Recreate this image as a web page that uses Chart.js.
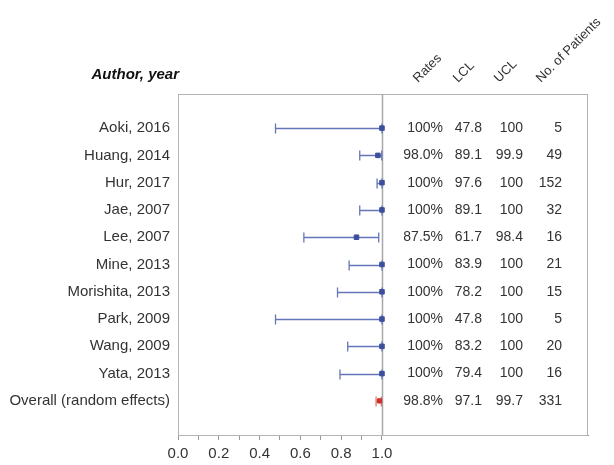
<!DOCTYPE html>
<html>
<head>
<meta charset="utf-8">
<script src="https://cdn.jsdelivr.net/npm/chart.js"></script>
<style>
	html, body { margin: 0; padding: 0; background: #fff; }
	#wrap { width: 614px; height: 465px; position: relative; }
</style>
</head>
<body>
<div id="wrap"><canvas id="c"></canvas></div>
<script>
// данные с картинки
var authors = ['Aoki, 2016', 'Huang, 2014', 'Hur, 2017', 'Jae, 2007', 'Lee, 2007', 'Mine, 2013',
	'Morishita, 2013', 'Park, 2009', 'Wang, 2009', 'Yata, 2013', 'Overall (random effects)'];
var rates = [1, 0.98, 1, 1, 0.875, 1, 1, 1, 1, 1, 0.988];
var lcl = [0.478, 0.891, 0.976, 0.891, 0.617, 0.839, 0.782, 0.478, 0.832, 0.794, 0.971];
var ucl = [1, 0.999, 1, 1, 0.984, 1, 1, 1, 1, 1, 0.997];
var patients = [5, 49, 152, 32, 16, 21, 15, 5, 20, 16, 331];
var xTicks = [0, 0.1, 0.2, 0.3, 0.4, 0.5, 0.6, 0.7, 0.8, 0.9, 1.0];
var headers = ['Rates', 'LCL', 'UCL', 'No. of Patients'];

var FONT = 'Liberation Sans, Arial, sans-serif';
var TXT = '#333';
var BLUE_LINE = '#6476b8';
var BLUE_PT = '#3c4f9c';
var RED = '#d0302c';
var overallIdx = authors.length - 1;

function pct(v){
	return v === 1 ? '100' : (v * 100).toFixed(1);
}

var studyPts = [], overallPts = [];
for (var i = 0; i < rates.length; i++){
	(i === overallIdx ? overallPts : studyPts).push({x: rates[i], y: i});
}

// усы, рамка, таблица и подписи
var forestPlugin = {
	id: 'forest',
	beforeDatasetsDraw: function(chart){
		var ctx = chart.ctx, xs = chart.scales.x, ys = chart.scales.y, a = chart.chartArea;
		ctx.save();
		// рамка
		ctx.strokeStyle = '#b4b4b4';
		ctx.lineWidth = 1;
		ctx.strokeRect(a.left + 0.5, a.top + 0.5, a.right - a.left - 1, a.bottom - a.top);
		// линия x = 1
		var x1 = Math.round(xs.getPixelForValue(1)) + 0.5;
		ctx.strokeStyle = '#a8a8a8';
		ctx.lineWidth = 1.5;
		ctx.beginPath();
		ctx.moveTo(x1, a.top);
		ctx.lineTo(x1, a.bottom);
		ctx.stroke();
		// доверительные интервалы
		for (var i = 0; i < rates.length; i++){
			var y = Math.round(ys.getPixelForValue(i)) + 0.5;
			var l = xs.getPixelForValue(lcl[i]), u = xs.getPixelForValue(ucl[i]);
			ctx.strokeStyle = i === overallIdx ? '#e07a70' : BLUE_LINE;
			ctx.lineWidth = 1.3;
			ctx.beginPath();
			ctx.moveTo(l, y); ctx.lineTo(u, y);
			ctx.moveTo(l, y - 5); ctx.lineTo(l, y + 5);
			ctx.moveTo(u, y - 5); ctx.lineTo(u, y + 5);
			ctx.stroke();
		}
		ctx.restore();
	},
	afterDraw: function(chart){
		var ctx = chart.ctx, ys = chart.scales.y;
		ctx.save();
		ctx.fillStyle = TXT;
		ctx.textBaseline = 'middle';
		for (var i = 0; i < authors.length; i++){
			var y = ys.getPixelForValue(i);
			ctx.textAlign = 'right';
			ctx.font = '15px ' + FONT;
			ctx.fillText(authors[i], 170, y);
			ctx.font = '14px ' + FONT;
			ctx.fillText(pct(rates[i]) + '%', 443, y);
			ctx.fillText(pct(lcl[i]), 482, y);
			ctx.fillText(pct(ucl[i]), 523, y);
			ctx.fillText(String(patients[i]), 562, y);
		}
		// заголовки
		ctx.font = 'italic bold 15px ' + FONT;
		ctx.fillStyle = '#111';
		ctx.textAlign = 'right';
		ctx.fillText('Author, year', 179, 75);
		ctx.font = '13px ' + FONT;
		ctx.fillStyle = TXT;
		ctx.textAlign = 'left';
		ctx.textBaseline = 'alphabetic';
		var hx = [418, 458, 499, 541];
		for (var j = 0; j < headers.length; j++){
			ctx.save();
			ctx.translate(hx[j], 83);
			ctx.rotate(-Math.PI / 4);
			ctx.fillText(headers[j], 0, 0);
			ctx.restore();
		}
		ctx.restore();
	}
};

new Chart(document.getElementById('c'), {
	type: 'scatter',
	data: {
		datasets: [
			{data: studyPts, pointStyle: 'rect', pointRadius: 3.2, backgroundColor: BLUE_PT, borderColor: BLUE_PT, borderWidth: 1},
			{data: overallPts, pointStyle: 'rect', pointRadius: 3, backgroundColor: RED, borderColor: RED, borderWidth: 1}
		]
	},
	options: {
		responsive: true,
		maintainAspectRatio: false,
		animation: false,
		events: [],
		layout: {padding: {left: 178, right: 26, top: 94, bottom: 0}},
		plugins: {legend: {display: false}, tooltip: {enabled: false}},
		scales: {
			x: {
				type: 'linear',
				min: 0,
				max: 2.01,
				afterBuildTicks: function(axis){
					axis.ticks = xTicks.map(function(v){ return {value: v}; });
				},
				afterFit: function(axis){ axis.height = 30; },
				grid: {drawOnChartArea: false, drawTicks: true, tickLength: 5, color: '#999', lineWidth: 1},
				border: {display: true, color: '#999', width: 1},
				ticks: {
					autoSkip: false,
					maxRotation: 0,
					padding: 5,
					color: TXT,
					font: {family: FONT, size: 15},
					callback: function(v){
						var k = Math.round(v * 10);
						return k % 2 === 0 ? (k / 10).toFixed(1) : '';
					}
				}
			},
			y: {
				type: 'linear',
				display: false,
				reverse: true,
				min: -1.25,
				max: 11.25
			}
		}
	},
	plugins: [forestPlugin]
});
</script>
</body>
</html>
